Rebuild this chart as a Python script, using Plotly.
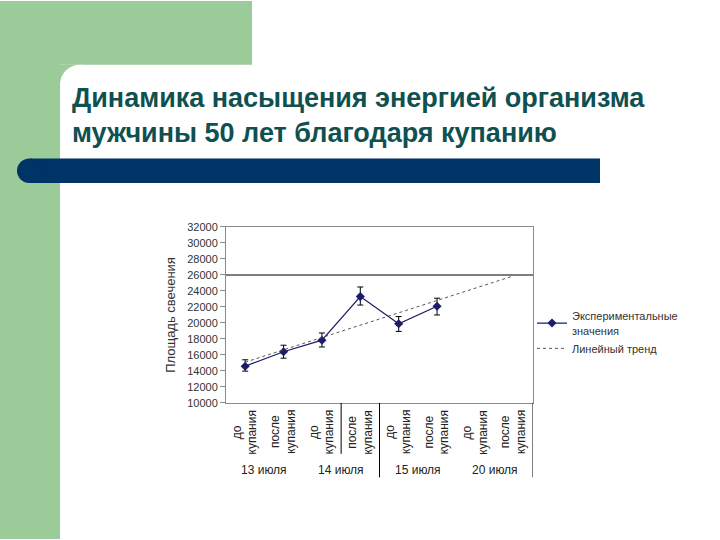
import plotly.graph_objects as go

# data
days = ['13 июля', '14 июля', '15 июля', '20 июля']
states = ['до<br>купания', 'после<br>купания']
glow_area = [14600, 16400, 17850, 23300, 19900, 22100]
err_plus = [800, 820, 900, 1200, 900, 1000]
err_minus = [620, 800, 850, 1060, 950, 1100]
trend_pos = [1, 8]
trend_val = [15100, 25900]
norm_level = 26000

W, H = 720, 540
GREEN = '#9bcb98'
NAVY = '#003366'
TITLE_C = '#0f5050'


def px(x):
    return x / W


def py(y):
    return 1 - y / H


cat_pos = list(range(1, len(days) * len(states) + 1))

fig = go.Figure()

fig.add_trace(go.Scatter(
    x=cat_pos[:len(glow_area)], y=glow_area,
    mode='lines+markers',
    name='Экспериментальные<br>значения',
    line=dict(color='#1c1c6b', width=1.2),
    marker=dict(symbol='diamond', size=7, color='#1c1c6b'),
    error_y=dict(type='data', array=err_plus, arrayminus=err_minus,
                 color='black', thickness=1, width=3),
))
fig.add_trace(go.Scatter(
    x=trend_pos, y=trend_val, mode='lines', name='Линейный тренд',
    line=dict(color='#555', width=1, dash='dot'),
))

fig.add_hline(y=norm_level, line=dict(color='black', width=1.2))

# slide background
shapes = [
    dict(type='rect', x0=px(-5), x1=px(252), y0=py(-5), y1=py(60)),
    dict(type='rect', x0=px(-5), x1=px(60), y0=py(-5), y1=py(545)),
    dict(type='rect', x0=px(60), x1=px(80), y0=py(60), y1=py(80)),
]
for s in shapes:
    s.update(xref='paper', yref='paper', fillcolor=GREEN, line_width=0, layer='below')
    fig.add_shape(**s)
fig.add_shape(type='circle', xref='paper', yref='paper', x0=px(60), x1=px(100),
              y0=py(60), y1=py(100), fillcolor='white', line_width=0, layer='below')
fig.add_shape(type='rect', xref='paper', yref='paper', x0=px(30), x1=px(600),
              y0=py(156), y1=py(181), fillcolor=NAVY, line_width=0, layer='below')
fig.add_shape(type='circle', xref='paper', yref='paper', x0=px(17), x1=px(42),
              y0=py(156), y1=py(181), fillcolor=NAVY, line_width=0, layer='below')

# category dividers under the plot
for xd, yb in [(3.5, 458), (4.5, 482), (8.5, 482)]:
    fig.add_shape(type='line', xref='x', yref='paper', x0=xd, x1=xd,
                  y0=py(406), y1=py(yb), line=dict(color='black', width=1))

# two-level category labels
for i, p in enumerate(cat_pos):
    fig.add_annotation(x=p, y=py(436), xref='x', yref='paper', text=states[i % 2],
                       textangle=-90, showarrow=False, yanchor='middle',
                       font=dict(family='Liberation Sans', size=12, color='#222'))
for j, d in enumerate(days):
    fig.add_annotation(x=2 * j + 1.5, y=py(475), xref='x', yref='paper', text=d,
                       showarrow=False, yanchor='middle',
                       font=dict(family='Liberation Sans', size=12, color='#222'))

fig.add_annotation(x=px(70), y=py(112), xref='paper', yref='paper', xanchor='left',
                   yanchor='middle', align='left', showarrow=False,
                   text='Динамика насыщения энергией организма<br>мужчины 50 лет благодаря купанию',
                   font=dict(family='Liberation Sans', size=27, color=TITLE_C, weight='bold'))

fig.update_xaxes(domain=[px(226), px(533)], range=[0.5, 8.5], showticklabels=False,
                 showgrid=False, zeroline=False, showline=True, mirror=True,
                 linecolor='#8a8a8a', linewidth=1, ticks='')
fig.update_yaxes(domain=[py(406), py(226)], range=[10000, 32000], dtick=2000,
                 tickformat='d',
                 showgrid=False, zeroline=False, showline=True, mirror=True,
                 linecolor='#8a8a8a', linewidth=1, ticks='outside', ticklen=5,
                 tickcolor='#8a8a8a',
                 tickfont=dict(family='Liberation Sans', size=11, color='#333'),
                 title=dict(text='Площадь свечения', standoff=8,
                            font=dict(family='Liberation Sans', size=13, color='#333')))

fig.update_layout(
    width=W, height=H, margin=dict(l=0, r=0, t=0, b=0),
    paper_bgcolor='white', plot_bgcolor='white',
    legend=dict(x=px(532), y=py(303), xanchor='left', yanchor='top',
                font=dict(family='Liberation Sans', size=11, color='#333'),
                itemwidth=30, tracegroupgap=4, bgcolor='rgba(0,0,0,0)'),
)

fig.write_html('out.html', config={'displayModeBar': False},
               post_script="document.body.style.margin='0px';")
